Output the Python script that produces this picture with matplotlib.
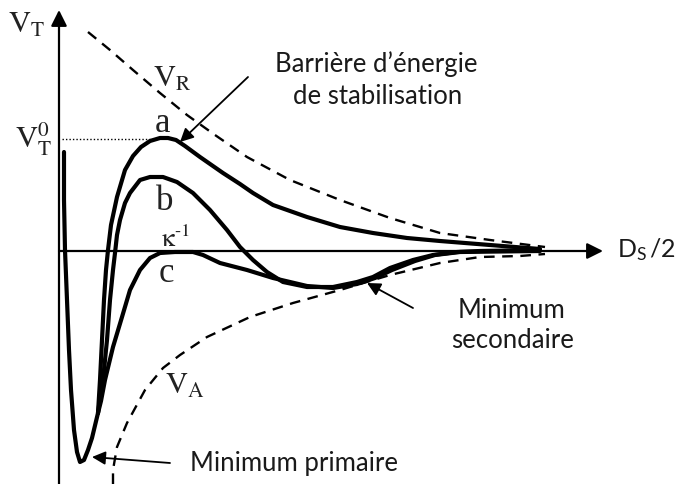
import matplotlib
matplotlib.use("Agg")
import matplotlib.pyplot as plt

plt.rcParams["mathtext.fontset"] = "custom"
plt.rcParams["mathtext.rm"] = "Lato"
plt.rcParams["mathtext.it"] = "Lato:italic"

# distance from the surface (x) and total interaction energy (y), origin at the axes crossing
well_x = [5, 5, 6, 8, 10, 12, 15, 18, 21, 25, 29, 33, 39]
well_y = [99, 51, 1, -49, -99, -139, -179, -201, -211, -209, -199, -187, -162]

curve_a_x = [39, 41, 43, 45, 47, 49, 52, 58, 66, 74, 82, 91, 101, 109, 117, 126, 141,
             164, 181, 194, 214, 248, 281, 314, 348, 381, 431, 481]
curve_a_y = [-162, -129, -89, -49, -19, 1, 26, 54, 81, 95, 104, 110, 113, 113, 111, 105, 94,
             78, 67, 58, 46, 34, 24, 18, 13, 10, 6, 2]

curve_b_x = [39, 45, 48, 51, 54, 56, 58, 61, 66, 71, 81, 91, 104, 118, 134, 151, 168, 181,
             194, 208, 224, 248, 274, 298, 314, 331, 354, 374, 398, 421, 481]
curve_b_y = [-162, -119, -89, -49, -19, -2, 16, 31, 48, 58, 71, 74, 74, 69, 58, 41, 21, 4,
             -9, -21, -31, -36, -36, -31, -26, -17, -9, -4, -1, 0, 1]

curve_c_x = [39, 42, 46, 54, 63, 71, 81, 91, 101, 116, 134, 144, 161, 188, 214, 248, 274,
             298, 316, 333, 356, 376, 401, 481]
curve_c_y = [-162, -150, -129, -96, -66, -39, -19, -7, -2, -1, -1, -4, -12, -19, -27, -35, -37,
             -33, -27, -19, -10, -4, -1, 0]

v_r_x = [29, 51, 74, 101, 128, 156, 188, 231, 281, 331, 381, 431, 486]
v_r_y = [219, 201, 181, 158, 136, 116, 94, 71, 51, 33, 18, 11, 4]

v_a_x = [54, 54, 58, 68, 86, 104, 121, 148, 191, 234, 281, 331, 381, 421, 461, 486]
v_a_y = [-233, -219, -196, -172, -139, -117, -104, -86, -66, -52, -39, -24, -12, -6, -5, -3]

v_t0 = 112          # height of the energy barrier on curve a
peak_a_x = 91

fig = plt.figure(figsize=(6.76, 4.84), dpi=100)
ax = fig.add_axes([0, 0, 1, 1])
ax.set_xlim(-59, 617)
ax.set_ylim(-233, 251)
ax.axis("off")

# axes with arrow heads
arrow_kw = dict(arrowstyle="-|>", lw=1.6, color="black", mutation_scale=24, shrinkA=0, shrinkB=0)
ax.annotate("", xy=(0, 241), xytext=(0, -233), arrowprops=arrow_kw)
ax.annotate("", xy=(544, 0), xytext=(0, 0), arrowprops=arrow_kw)

# potential curves
curve_kw = dict(color="black", lw=3.0, solid_capstyle="round", solid_joinstyle="round")
ax.plot(well_x, well_y, **curve_kw)
ax.plot(curve_a_x, curve_a_y, **curve_kw)
ax.plot(curve_b_x, curve_b_y, **curve_kw)
ax.plot(curve_c_x, curve_c_y, **curve_kw)

# repulsive and attractive contributions
dash_kw = dict(color="black", lw=1.7, ls=(0, (4.5, 3.2)))
ax.plot(v_r_x, v_r_y, **dash_kw)
ax.plot(v_a_x, v_a_y, **dash_kw)

# barrier height reference line
ax.plot([3, peak_a_x], [v_t0, v_t0], color="black", lw=1.0, ls=(0, (1, 1.5)))

serif = dict(family="Liberation Serif", math_fontfamily="stix", color="#222222")
ax.text(-32, 226, r"$\mathrm{V_T}$", fontsize=22, ha="center", va="center", **serif)
ax.text(-25, 112, r"$\mathrm{V_T^0}$", fontsize=22, ha="center", va="center", **serif)
ax.text(113, 172, r"$\mathrm{V_R}$", fontsize=22, ha="center", va="center", **serif)
ax.text(126, -135, r"$\mathrm{V_A}$", fontsize=22, ha="center", va="center", **serif)
ax.text(103, 127, "a", fontsize=25, ha="center", va="center", **serif)
ax.text(106, 49, "b", fontsize=25, ha="center", va="center", **serif)
ax.text(107, -23, "c", fontsize=25, ha="center", va="center", **serif)
ax.text(117, 12, r"$\mathrm{\kappa}^{\text{-1}}$", fontsize=19, ha="center", va="center", **serif)

sans = dict(family="Lato", color="#1a1a1a")
ax.text(317, 187, "Barrière d’énergie", fontsize=18.5, ha="center", va="center", **sans)
ax.text(319, 155, "de stabilisation", fontsize=18.5, ha="center", va="center", **sans)
ax.text(452, -60, "Minimum", fontsize=18.5, ha="center", va="center", **sans)
ax.text(454, -89, "secondaire", fontsize=18.5, ha="center", va="center", **sans)
ax.text(131, -212, "Minimum primaire", fontsize=18.5, ha="left", va="center", **sans)
ax.text(558, 1, r"D$_\mathrm{S}\,$/2", fontsize=18, ha="left", va="center", **sans)

# pointers to the barrier and the two minima
pointer_kw = dict(arrowstyle="-|>", lw=1.3, color="black", mutation_scale=20, shrinkA=0, shrinkB=0)
ax.annotate("", xy=(121, 109), xytext=(189, 174), arrowprops=pointer_kw)
ax.annotate("", xy=(308, -32), xytext=(354, -57), arrowprops=pointer_kw)
ax.annotate("", xy=(33, -206), xytext=(111, -212), arrowprops=pointer_kw)

fig.savefig("out.png", dpi=100)
